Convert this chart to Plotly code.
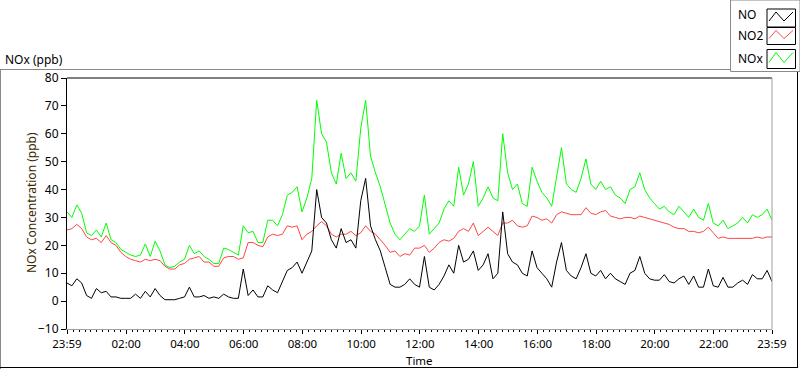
import plotly.graph_objects as go
from datetime import datetime, timedelta

# ---------------- data (ppb, 10-minute readings from 23:59 to 23:59) ----------------
no_ppb = [
    6.5, 5.5, 8, 6.5, 2, 1, 4.5, 3, 3.5, 1.5, 1.5, 1, 1, 1, 2.5, 1, 3.5, 1.5, 4.5, 2, 0.5, 0.5, 0.5, 1, 1.5,
    5, 1.5, 1.5, 2, 1, 1.5, 1, 2.5, 1.5, 1, 1, 11.5, 2, 4, 1.5, 1.5, 5.5, 4, 3, 7, 11, 12, 14, 10,
    14, 18, 40, 30, 28, 22, 19, 26, 21, 22, 19, 36, 44, 27, 22, 18, 12, 6, 5, 5, 6, 8, 6, 5,
    16, 5, 4, 6, 9, 13, 10, 20, 14, 15, 18, 11, 13, 17, 8, 10, 32, 17, 14, 13, 10, 9, 18, 12,
    10, 8, 5, 14, 21, 11, 9, 8, 12, 17, 10, 9, 11, 8, 10, 8, 7, 6, 10, 11, 16, 10, 8, 7.5,
    7.5, 9.5, 7, 6.5, 8, 9, 6, 9, 5, 5, 11.5, 5.5, 5, 8.5, 5, 5, 6.5, 7.5, 6, 9.5, 8, 8, 11, 7,
]
no2_ppb = [
    25.5, 26, 27.5, 26, 23, 22, 22.5, 21, 23.5, 21, 20, 17.5, 16, 15, 14.5, 14, 15, 14.5, 15, 14.5, 12.5, 11.5, 11.5, 13, 13.5,
    15, 15.5, 16, 14, 14, 12.5, 12.5, 15.5, 16, 16, 15, 15.5, 21, 21, 20, 19.5, 23, 24, 23.5, 24, 27, 26.5, 27, 22,
    24, 25, 27, 28.5, 27, 24, 23, 24, 24, 25, 23.5, 24.5, 27, 25, 24, 22, 20, 17.5, 18, 16, 17, 16.5, 19, 19,
    20, 17.5, 19, 21, 22, 21.5, 22.5, 25, 26, 25, 28, 23.5, 25, 26.5, 25, 23.5, 28, 28, 29, 27, 26.5, 27, 30.5, 30,
    29, 29.5, 28, 31, 32, 31.5, 31, 31, 31, 33.5, 31.5, 31, 32, 32.5, 30.5, 30, 29.5, 30, 30, 29.5, 30.5, 30, 29.5, 29,
    28.5, 28, 27.5, 26.5, 26, 26, 25, 25, 24.5, 25, 26.5, 24.5, 22.5, 23, 22.5, 22.5, 22.5, 22.5, 22.5, 22.5, 23, 22.5, 23, 23,
]
nox_ppb = [
    32, 30, 34.5, 31.5, 24.5, 23.5, 25.5, 23, 28, 22, 21, 18.5, 17.5, 16.5, 16, 16.5, 20.5, 16, 21.5, 18, 13, 12, 12.5, 14, 15,
    20, 17, 18, 16, 15, 13.5, 13.5, 19, 18.5, 17.5, 16.5, 27, 24.5, 25, 21, 21, 29, 29, 27, 31, 38, 39, 41, 32,
    37, 44, 72, 60, 57, 46, 42, 53, 44, 46, 43, 62, 72, 52, 46, 41, 34, 28, 24, 22, 24, 26, 25, 27,
    38, 24, 26, 28, 33, 36, 34, 48, 38, 42, 50, 34, 37, 41, 37, 36, 60, 46, 40, 42, 35, 34, 48, 43,
    39, 37, 34, 44, 55, 42, 40, 39, 44, 51, 42, 40, 43, 40, 41, 38, 37, 35, 40, 41, 46, 40, 37, 35,
    33, 34, 32, 31, 34, 32, 30, 33, 30, 29, 35, 28, 27, 29, 26, 27, 28, 30, 28, 31, 30, 31, 33, 29,
]
series_names = ["NO", "NO2", "NOx"]
tick_times = ["2000-01-01 23:59", "2000-01-02 02:00", "2000-01-02 04:00", "2000-01-02 06:00",
              "2000-01-02 08:00", "2000-01-02 10:00", "2000-01-02 12:00", "2000-01-02 14:00",
              "2000-01-02 16:00", "2000-01-02 18:00", "2000-01-02 20:00", "2000-01-02 22:00",
              "2000-01-02 23:59"]
tick_labels = ["23:59", "02:00", "04:00", "06:00", "08:00", "10:00", "12:00", "14:00",
               "16:00", "18:00", "20:00", "22:00", "23:59"]

# ---------------- build ----------------
t0 = datetime(2000, 1, 1, 23, 59)
times = [t0 + timedelta(minutes=10 * i) for i in range(len(no_ppb))]

W, H = 800, 369
L, R, T, B = 67, 772, 78, 329
def px(x):
    return (x - L) / (R - L)
def py(y):
    return (B - y) / (B - T)

FONT = "Noto Sans"
colors = {"NO": "#000000", "NO2": "#ff4545", "NOx": "#00ff00"}

fig = go.Figure()
for name, vals in [("NOx", nox_ppb), ("NO2", no2_ppb), ("NO", no_ppb)]:
    fig.add_trace(go.Scatter(x=times, y=vals, mode="lines", name=name,
                             line=dict(color=colors[name], width=1), showlegend=False))

fig.update_layout(
    width=W, height=H, autosize=False,
    margin=dict(l=L, r=W - R, t=T, b=H - B),
    paper_bgcolor="white", plot_bgcolor="white",
    font=dict(family=FONT, size=12, color="#000"),
    xaxis=dict(type="date", range=[tick_times[0], tick_times[-1]],
               tickmode="array", tickvals=tick_times, ticktext=tick_labels,
               ticks="outside", ticklen=4, tickcolor="#000", tickwidth=1,
               showline=True, linecolor="#a0a0a0", linewidth=1,
               showgrid=False, zeroline=False, tickfont=dict(size=11.5),
               minor=dict(ticks="outside", ticklen=2, tickcolor="#000",
                          tick0="2000-01-02 00:00", dtick=720000, showgrid=False)),
    yaxis=dict(range=[-10, 80], tick0=0, dtick=10, ticks="outside", ticklen=5,
               tickcolor="#000", showline=True, linecolor="#000", linewidth=1,
               showgrid=False, zeroline=False, tickfont=dict(size=12)),
)

shapes = []
# plot frame top (black) and right (grey)
shapes.append(dict(type="line", xref="paper", yref="paper", x0=px(L), x1=px(R), y0=py(T), y1=py(T),
                   line=dict(color="#000", width=1)))
shapes.append(dict(type="line", xref="paper", yref="paper", x0=px(R), x1=px(R), y0=py(T), y1=py(B),
                   line=dict(color="#a0a0a0", width=1)))
# outer panel
shapes.append(dict(type="line", xref="paper", yref="paper", x0=px(0), x1=px(730), y0=py(69.5), y1=py(69.5),
                   line=dict(color="#8a8a8a", width=1)))
shapes.append(dict(type="line", xref="paper", yref="paper", x0=px(0.5), x1=px(0.5), y0=py(69.5), y1=py(369),
                   line=dict(color="#8a8a8a", width=1)))
shapes.append(dict(type="line", xref="paper", yref="paper", x0=px(0), x1=px(798), y0=py(367.5), y1=py(367.5),
                   line=dict(color="#000", width=1)))
shapes.append(dict(type="line", xref="paper", yref="paper", x0=px(797.5), x1=px(797.5), y0=py(71.5), y1=py(368),
                   line=dict(color="#000", width=1)))
# legend panel
shapes.append(dict(type="rect", xref="paper", yref="paper", x0=px(730.5), x1=px(800), y0=py(0), y1=py(71.5),
                   line=dict(color="#8a8a8a", width=1), fillcolor="white"))

annotations = []
box_tops = [9, 27.5, 49.5]
box_h = [18, 17, 19]
text_y = [14, 35.5, 58.5]
for k, name in enumerate(series_names):
    yt, hh = box_tops[k], box_h[k]
    shapes.append(dict(type="rect", xref="paper", yref="paper", x0=px(767), x1=px(795.5),
                       y0=py(yt), y1=py(yt + hh), line=dict(color="#000", width=1)))
    pts = [(769, yt + hh - 6), (776, yt + 3), (784, yt + hh - 6), (793, yt + 3)]
    path = "M " + " L ".join(f"{px(a)},{py(b)}" for a, b in pts)
    shapes.append(dict(type="path", xref="paper", yref="paper", path=path,
                       line=dict(color=colors[name], width=1)))
    annotations.append(dict(text=name, xref="paper", yref="paper", x=px(736), y=py(text_y[k]),
                            xanchor="left", yanchor="middle", showarrow=False,
                            font=dict(family=FONT, size=12, color="#000")))

annotations.append(dict(text="NOx (ppb)", xref="paper", yref="paper", x=px(3), y=py(59),
                        xanchor="left", yanchor="middle", showarrow=False,
                        font=dict(family=FONT, size=12, color="#000")))
annotations.append(dict(text="NOx Concentration (ppb)", xref="paper", yref="paper", x=px(31), y=py(203),
                        xanchor="center", yanchor="middle", textangle=-90, showarrow=False,
                        font=dict(family=FONT, size=12, color="#3a2a00")))
annotations.append(dict(text="Time", xref="paper", yref="paper", x=px(420), y=py(360.5),
                        xanchor="center", yanchor="middle", showarrow=False,
                        font=dict(family=FONT, size=11.5, color="#000")))

fig.update_layout(shapes=shapes, annotations=annotations)
fig.write_html("out.html", config={"displayModeBar": False},
               post_script="document.body.style.margin='0';document.body.style.padding='0';document.body.style.overflow='hidden';")
